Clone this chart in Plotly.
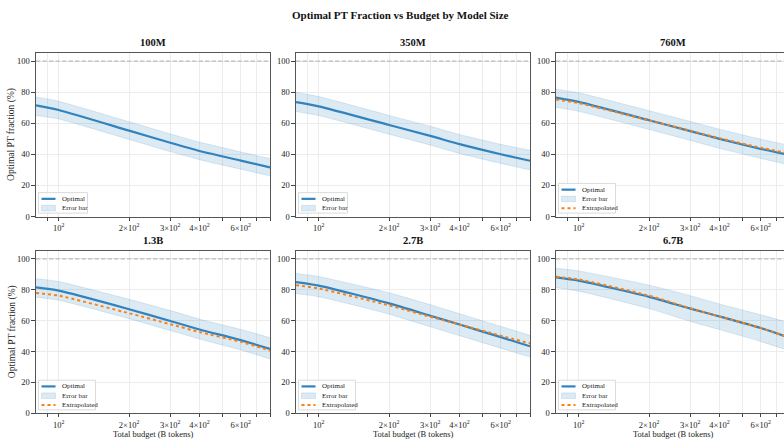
import math
import plotly.graph_objects as go

budgets = [80, 100, 200, 300, 400, 600, 800]
models = ["100M", "350M", "760M", "1.3B", "2.7B", "6.7B"]

optimal = {
    "100M": [71.5, 68.6, 55.3, 47.5, 42.2, 36.0, 31.6],
    "350M": [73.6, 70.9, 58.9, 51.9, 46.6, 40.1, 35.9],
    "760M": [76.6, 73.8, 62.0, 55.0, 50.0, 43.5, 39.5],
    "1.3B": [81.5, 79.4, 67.4, 59.8, 54.3, 47.4, 41.7],
    "2.7B": [85.0, 82.7, 71.2, 63.2, 57.5, 49.3, 43.4],
    "6.7B": [88.0, 85.9, 75.4, 67.8, 62.7, 55.2, 48.8],
}
upper = {
    "100M": [77.0, 74.2, 61.0, 53.2, 47.9, 41.6, 37.3],
    "350M": [80.0, 77.2, 65.1, 58.1, 52.8, 46.5, 42.6],
    "760M": [82.0, 79.6, 68.1, 61.2, 56.2, 49.8, 45.8],
    "1.3B": [87.2, 85.3, 73.8, 66.5, 61.0, 54.3, 49.0],
    "2.7B": [90.5, 88.6, 78.0, 70.3, 64.5, 56.3, 50.5],
    "6.7B": [93.9, 92.2, 83.0, 76.2, 70.8, 63.8, 58.5],
}
lower = {
    "100M": [65.0, 62.8, 49.6, 41.8, 36.6, 30.5, 26.2],
    "350M": [67.6, 65.0, 53.0, 46.0, 40.6, 34.2, 30.0],
    "760M": [70.3, 67.7, 56.0, 49.0, 43.9, 37.4, 33.1],
    "1.3B": [75.2, 73.2, 61.3, 53.6, 48.1, 41.0, 35.2],
    "2.7B": [77.5, 75.5, 64.2, 56.0, 50.3, 42.2, 36.4],
    "6.7B": [81.3, 79.1, 67.8, 59.5, 54.2, 46.5, 40.4],
}
extrapolated = {
    "760M": [75.3, 73.0, 61.8, 55.3, 50.4, 44.3, 40.5],
    "1.3B": [77.9, 76.2, 64.8, 57.7, 52.6, 46.3, 40.6],
    "2.7B": [83.0, 80.8, 69.9, 62.5, 57.5, 50.3, 45.3],
    "6.7B": [88.4, 86.7, 76.2, 68.0, 62.7, 55.2, 48.8],
}

xtick_vals = [90, 100, 200, 300, 400, 500, 600, 700, 800]
xtick_text = ["", "10<sup>2</sup>", "2×10<sup>2</sup>", "3×10<sup>2</sup>", "4×10<sup>2</sup>",
              "", "6×10<sup>2</sup>", "", ""]
ytick_vals = [0, 20, 40, 60, 80, 100]
legend_labels = ["Optimal", "Error bar", "Extrapolated"]

W, H = 784, 446
FONT = "Liberation Serif"
BLUE = "#3182bd"
ORANGE = "#ff7f0e"
BAND = "rgba(49,130,189,0.17)"
BAND_EDGE = "rgba(49,130,189,0.25)"
SMOOTH = 0.6

col_px = [(36, 270), (296, 530), (556, 790)]
row_px = [(54, 219), (254, 418)]


def px(xp):
    return xp / W


def py(yp):
    return 1 - yp / H


fig = go.Figure()
annotations = []
shapes = []
lx0 = math.log10(80)
for i, m in enumerate(models):
    r, c = divmod(i, 3)
    n = i + 1
    xa = "x" if n == 1 else f"x{n}"
    ya = "y" if n == 1 else f"y{n}"
    x0p, x1p = col_px[c]
    y0p, y1p = row_px[r]
    x1_clip = min(x1p, W)
    xr_end = lx0 + (x1_clip - x0p) / (x1p - x0p)
    fig.add_trace(go.Scatter(x=budgets, y=upper[m], mode="lines",
                             line=dict(width=0.6, color=BAND_EDGE, shape="spline", smoothing=SMOOTH),
                             showlegend=False, hoverinfo="skip", xaxis=xa, yaxis=ya))
    fig.add_trace(go.Scatter(x=budgets, y=lower[m], mode="lines", fill="tonexty", fillcolor=BAND,
                             line=dict(width=0.6, color=BAND_EDGE, shape="spline", smoothing=SMOOTH),
                             name="Error bar", showlegend=False, xaxis=xa, yaxis=ya))
    fig.add_trace(go.Scatter(x=budgets, y=optimal[m], mode="lines",
                             line=dict(width=2.2, color=BLUE, shape="spline", smoothing=SMOOTH),
                             name="Optimal", showlegend=False, xaxis=xa, yaxis=ya))
    has_ext = m in extrapolated
    if has_ext:
        fig.add_trace(go.Scatter(x=budgets, y=extrapolated[m], mode="lines",
                                 line=dict(width=2, color=ORANGE, dash="dot", shape="spline", smoothing=SMOOTH),
                                 name="Extrapolated", showlegend=False, xaxis=xa, yaxis=ya))
    axkey = "xaxis" if n == 1 else f"xaxis{n}"
    aykey = "yaxis" if n == 1 else f"yaxis{n}"
    fig.layout[axkey] = dict(type="log", range=[lx0, xr_end], domain=[px(x0p), px(x1_clip)], anchor=ya,
                             tickvals=xtick_vals, ticktext=xtick_text, ticks="outside", ticklen=3,
                             tickcolor="#444", tickfont=dict(size=8.5, color="#222", family=FONT),
                             showgrid=True, gridcolor="#ececec", gridwidth=0.8,
                             showline=True, linecolor="#555", linewidth=1.3, mirror=True, zeroline=False)
    fig.layout[aykey] = dict(range=[0, 105], domain=[py(y1p), py(y0p)], anchor=xa, tickvals=ytick_vals,
                             ticks="outside", ticklen=3.5, tickcolor="#444",
                             tickfont=dict(size=8.5, color="#222", family=FONT),
                             showgrid=True, gridcolor="#ececec", gridwidth=0.8,
                             showline=True, linecolor="#555", linewidth=1.3,
                             mirror=(c != 2), zeroline=False)
    shapes.append(dict(type="line", xref=f"{xa} domain", yref=ya, x0=0, x1=1, y0=100, y1=100,
                       line=dict(color="#bbbbbb", width=1.2, dash="4.5px,2px")))
    annotations.append(dict(text=f"<b>{m}</b>", x=px((x0p + x1p) / 2), y=py(y0p - 3.5), xref="paper", yref="paper",
                            xanchor="center", yanchor="bottom", showarrow=False,
                            font=dict(size=10.5, family=FONT, color="#111")))

    # legend box (lower left)
    nitems = 3 if has_ext else 2
    lb_left = x0p + 2.5
    lb_bottom = y1p - 3.5
    lb_width = 57 if has_ext else 49
    lb_height = 30 if has_ext else 20.7
    shapes.append(dict(type="rect", xref="paper", yref="paper", layer="above",
                       x0=px(lb_left), x1=px(lb_left + lb_width), y0=py(lb_bottom), y1=py(lb_bottom - lb_height),
                       fillcolor="rgba(255,255,255,0.85)", line=dict(color="#d2d2d2", width=0.8)))
    step = 9.4
    for k in range(nitems):
        yc = lb_bottom - lb_height + 6.3 + k * step
        sx0, sx1 = lb_left + 3, lb_left + 17
        if k == 0:
            shapes.append(dict(type="line", xref="paper", yref="paper", layer="above",
                               x0=px(sx0), x1=px(sx1), y0=py(yc), y1=py(yc),
                               line=dict(color=BLUE, width=2.2)))
        elif k == 1:
            shapes.append(dict(type="rect", xref="paper", yref="paper", layer="above",
                               x0=px(sx0), x1=px(sx1), y0=py(yc - 2.8), y1=py(yc + 2.8),
                               fillcolor=BAND, line=dict(color=BAND_EDGE, width=0.6)))
        else:
            shapes.append(dict(type="line", xref="paper", yref="paper", layer="above",
                               x0=px(sx0), x1=px(sx1), y0=py(yc), y1=py(yc),
                               line=dict(color=ORANGE, width=2, dash="dot")))
        annotations.append(dict(text=legend_labels[k], x=px(lb_left + 21), y=py(yc), xref="paper", yref="paper",
                                xanchor="left", yanchor="middle", showarrow=False,
                                font=dict(size=7, family=FONT, color="#222")))

    if c == 0:
        annotations.append(dict(text="Optimal PT fraction (%)", x=px(12), y=py((y0p + y1p) / 2),
                                xref="paper", yref="paper", textangle=-90, showarrow=False,
                                xanchor="center", yanchor="middle", font=dict(size=9.5, family=FONT, color="#222")))
    if r == 1:
        annotations.append(dict(text="Total budget (B tokens)", x=px((x0p + x1p) / 2), y=py(446.5),
                                xref="paper", yref="paper", showarrow=False,
                                xanchor="center", yanchor="bottom", font=dict(size=8.5, family=FONT, color="#222")))

annotations.append(dict(text="<b>Optimal PT Fraction vs Budget by Model Size</b>", x=px(400), y=py(15),
                        xref="paper", yref="paper", showarrow=False, xanchor="center", yanchor="middle",
                        font=dict(size=11, family=FONT, color="#111")))

fig.update_layout(width=W, height=H, margin=dict(l=0, r=0, t=0, b=0),
                  paper_bgcolor="white", plot_bgcolor="white",
                  annotations=annotations, shapes=shapes, showlegend=False,
                  font=dict(family=FONT))
fig.write_html("out.html")
